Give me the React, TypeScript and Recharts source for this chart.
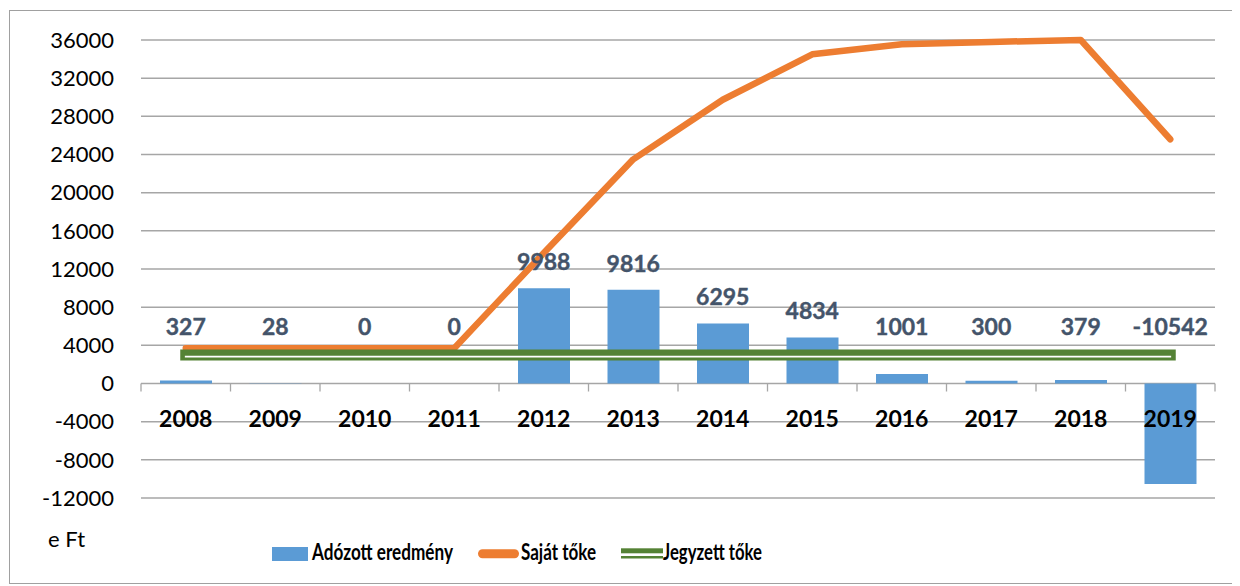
import React from "react";
import {
  ComposedChart,
  Bar,
  Line,
  XAxis,
  YAxis,
  CartesianGrid,
  LabelList,
  Legend,
} from "recharts";

const years = ["2008", "2009", "2010", "2011", "2012", "2013", "2014", "2015", "2016", "2017", "2018", "2019"];
const adozottEredmeny = [327, 28, 0, 0, 9988, 9816, 6295, 4834, 1001, 300, 379, -10542];
const sajatToke = [3700, 3700, 3700, 3700, 13680, 23490, 29740, 34500, 35550, 35800, 36000, 25600];
const jegyzettToke = [3000, 3000, 3000, 3000, 3000, 3000, 3000, 3000, 3000, 3000, 3000, 3000];
const yTicks = [-12000, -8000, -4000, 0, 4000, 8000, 12000, 16000, 20000, 24000, 28000, 32000, 36000];
const Y_MIN = -12000;
const Y_MAX = 36000;

const data = years.map((y, i) => ({
  year: y,
  adozott: adozottEredmeny[i],
  sajat: sajatToke[i],
  jegyzett: jegyzettToke[i],
}));

const W = 1232;
const H = 578;
const M_TOP = 32;
const M_RIGHT = 25;
const M_BOTTOM = 58;
const X_AXIS_H = 30;
const Y_AXIS_W = 133;
const PLOT_H = H - M_TOP - M_BOTTOM - X_AXIS_H;
const PLOT_W = W - M_RIGHT - Y_AXIS_W;
const BAND = PLOT_W / years.length;
const ZERO_Y = M_TOP + (PLOT_H * (Y_MAX - 0)) / (Y_MAX - Y_MIN);

const FONT = "Lato, 'Open Sans', sans-serif";
const BLUE = "#5B9BD5";
const ORANGE = "#ED7D31";
const GREEN = "#548235";
const LABEL_COLOR = "#44546A";

const CategoryTick = (props: any) => {
  const { x, payload, index } = props;
  const last = index === years.length - 1;
  return (
    <g>
      <line x1={x - BAND / 2} x2={x - BAND / 2} y1={ZERO_Y} y2={ZERO_Y + 8} stroke="#a6a6a6" strokeWidth={1.3} />
      {last && (
        <line x1={x + BAND / 2} x2={x + BAND / 2} y1={ZERO_Y} y2={ZERO_Y + 8} stroke="#a6a6a6" strokeWidth={1.3} />
      )}
      <text
        x={x}
        y={ZERO_Y + 34}
        textAnchor="middle"
        dominantBaseline="central"
        fontFamily={FONT}
        fontWeight="bold"
        fontSize={23}
        fill="#000"
      >
        {payload.value}
      </text>
    </g>
  );
};

const ValueLabel = (props: any) => {
  const { x, y, value } = props;
  const top = Math.min(y, ZERO_Y);
  const ly = Math.min(top - 27, ZERO_Y - 58);
  return (
    <text
      x={x}
      y={ly}
      textAnchor="middle"
      dominantBaseline="central"
      fontFamily={FONT}
      fontWeight="bold"
      fontSize={23}
      fill={LABEL_COLOR}
      stroke={LABEL_COLOR}
      strokeWidth={0.4}
    >
      {value}
    </text>
  );
};

const LegendContent = () => (
  <svg width={W} height={H} style={{ position: "absolute", left: 0, top: 0, pointerEvents: "none" }}>
    <text x={40} y={530} dominantBaseline="central" fontFamily={FONT} fontSize={22} fill="#000">
      e Ft
    </text>
    <rect x={264} y={539} width={36} height={14} fill={BLUE} />
    <text x={304} y={552} fontFamily={FONT} fontWeight="bold" fontSize={22} fill="#000" textLength={141} lengthAdjust="spacingAndGlyphs">
      Adózott eredmény
    </text>
    <line x1={474.5} x2={506.5} y1={545.8} y2={545.8} stroke={ORANGE} strokeWidth={9} strokeLinecap="round" />
    <text x={513} y={552} fontFamily={FONT} fontWeight="bold" fontSize={22} fill="#000" textLength={75} lengthAdjust="spacingAndGlyphs">
      Saját tőke
    </text>
    <rect x={613} y={540.3} width={42} height={5} fill={GREEN} />
    <rect x={613} y={548} width={42} height={2.5} fill={GREEN} />
    <text x={655} y={552} fontFamily={FONT} fontWeight="bold" fontSize={22} fill="#000" textLength={99} lengthAdjust="spacingAndGlyphs">
      Jegyzett tőke
    </text>
  </svg>
);

export default function App() {
  return (
    <div style={{ position: "relative", width: W, height: H }}>
      <style>{`.jegyzett-gap path { transform: translateY(1.8px); }`}</style>
      <div
        style={{
          position: "absolute",
          left: 1,
          top: 2,
          width: 1240,
          height: 574,
          border: "1.5px solid #a0a0a0",
          boxSizing: "border-box",
        }}
      />
      <ComposedChart
        width={W}
        height={H}
        data={data}
        margin={{ top: M_TOP, right: M_RIGHT, bottom: M_BOTTOM, left: 0 }}
        style={{ position: "absolute", left: 0, top: 0 }}
      >
        <CartesianGrid vertical={false} stroke="#a6a6a6" strokeWidth={1.5} />
        <YAxis
          width={Y_AXIS_W}
          domain={[Y_MIN, Y_MAX]}
          ticks={yTicks}
          interval={0}
          axisLine={false}
          tickLine={false}
          tickMargin={21}
          tick={{ fontSize: 22, fill: "#000", fontFamily: FONT }}
        />
        <Bar dataKey="adozott" name="Adózott eredmény" fill={BLUE} barSize={52} isAnimationActive={false} />
        <XAxis
          dataKey="year"
          height={X_AXIS_H}
          axisLine={false}
          tickLine={false}
          interval={0}
          tick={<CategoryTick />}
        />
        <Line
          dataKey="sajat"
          name="Saját tőke"
          stroke={ORANGE}
          strokeWidth={6.5}
          strokeLinecap="round"
          strokeLinejoin="round"
          dot={false}
          activeDot={false}
          isAnimationActive={false}
        />
        <Line
          dataKey="jegyzett"
          name="Jegyzett tőke"
          stroke={GREEN}
          strokeWidth={11}
          strokeLinecap="square"
          dot={false}
          activeDot={false}
          isAnimationActive={false}
        />
        <Line
          dataKey="jegyzett"
          className="jegyzett-gap"
          legendType="none"
          stroke="#ffffff"
          strokeWidth={1.8}
          strokeLinecap="square"
          dot={false}
          activeDot={false}
          isAnimationActive={false}
        />
        <Line
          dataKey="adozott"
          legendType="none"
          stroke="none"
          dot={false}
          activeDot={false}
          isAnimationActive={false}
        >
          <LabelList dataKey="adozott" content={<ValueLabel />} />
        </Line>
        <Legend
          layout="horizontal"
          verticalAlign="middle"
          align="center"
          content={<LegendContent />}
          wrapperStyle={{ left: 0, top: 0, width: W, height: H, pointerEvents: "none" }}
        />
      </ComposedChart>
    </div>
  );
}
